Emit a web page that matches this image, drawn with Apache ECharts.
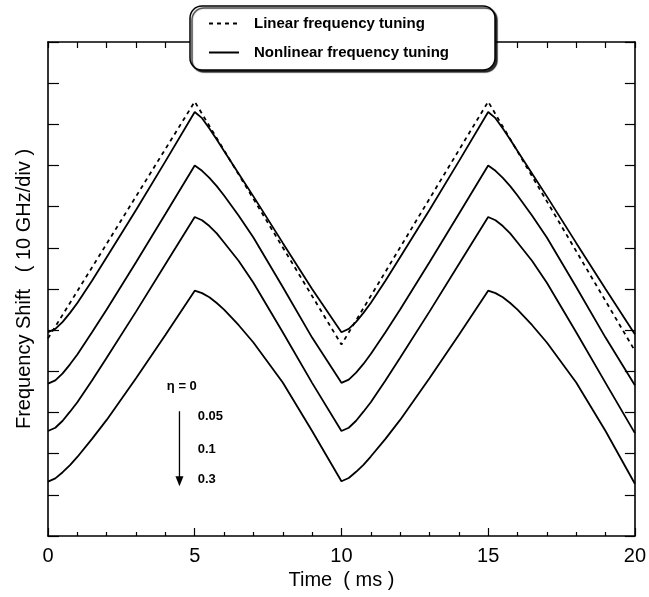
<!DOCTYPE html>
<html>
<head>
<meta charset="utf-8">
<script src="https://cdn.jsdelivr.net/npm/echarts@6/dist/echarts.min.js"></script>
<style>
  html, body { margin: 0; padding: 0; background: #fff; }
  #chart { width: 649px; height: 597px; }
</style>
</head>
<body>
<div id="chart"></div>
<script>
// time samples (ms), denser just after each turning point
const timeMs = [0, 0.25, 0.5, 0.75, 1, 1.5, 2, 3, 4, 5, 5.25, 5.5, 5.75, 6, 6.5, 7, 8, 9, 10,
  10.25, 10.5, 10.75, 11, 11.5, 12, 13, 14, 15, 15.25, 15.5, 15.75, 16, 16.5, 17, 18, 19, 20];

// nonlinear tuning curves (units = divisions)
const eta0 = [4.95, 5.03, 5.2, 5.42, 5.66, 6.2, 6.77, 7.92, 9.1, 10.3, 10.15, 9.9, 9.63, 9.35, 8.8, 8.25, 7.12, 6.0, 4.95,
  5.03, 5.2, 5.42, 5.66, 6.2, 6.77, 7.92, 9.1, 10.3, 10.15, 9.9, 9.63, 9.35, 8.8, 8.25, 7.12, 6.0, 4.9];
const eta005 = [3.7, 3.78, 3.95, 4.17, 4.41, 4.95, 5.5, 6.65, 7.82, 9.0, 8.87, 8.7, 8.5, 8.27, 7.78, 7.25, 6.05, 4.82, 3.72,
  3.8, 3.97, 4.18, 4.42, 4.95, 5.5, 6.65, 7.82, 9.0, 8.87, 8.7, 8.5, 8.27, 7.78, 7.25, 6.05, 4.82, 3.66];
const eta01 = [2.55, 2.63, 2.8, 3.02, 3.25, 3.78, 4.33, 5.45, 6.6, 7.75, 7.67, 7.53, 7.35, 7.13, 6.68, 6.15, 4.95, 3.72, 2.55,
  2.63, 2.8, 3.02, 3.25, 3.78, 4.33, 5.45, 6.6, 7.75, 7.67, 7.53, 7.35, 7.13, 6.68, 6.15, 4.95, 3.72, 2.5];
const eta03 = [1.32, 1.4, 1.55, 1.72, 1.92, 2.36, 2.82, 3.83, 4.88, 5.96, 5.9, 5.8, 5.66, 5.5, 5.12, 4.7, 3.73, 2.55, 1.33,
  1.41, 1.56, 1.73, 1.93, 2.36, 2.82, 3.83, 4.88, 5.96, 5.9, 5.8, 5.66, 5.5, 5.12, 4.7, 3.73, 2.55, 1.27];

// linear tuning (dashed)
const linearTime = [0, 5, 10, 15, 20];
const linearShift = [4.8, 10.55, 4.65, 10.55, 4.5];

// annotation (eta labels, data coords)
const etaLabels = ['η = 0', '0.05', '0.1', '0.3'];
const etaLabelPos = [[4.05, 3.64], [5.1, 2.91], [5.1, 2.11], [5.1, 1.38]];
const arrowFrom = [4.48, 3.03];
const arrowTo = [4.48, 1.21];

const FONT = 'Liberation Sans, Arial, sans-serif';
const NB = '\u00a0';

const chart = echarts.init(document.getElementById('chart'));

const pair = (xs, ys) => xs.map((x, i) => [x, ys[i]]);

const solid = (data) => ({
  name: 'Nonlinear frequency tuning',
  type: 'line',
  data: data,
  symbol: 'none',
  silent: true,
  itemStyle: { color: '#000' },
  lineStyle: { color: '#000', width: 1.8 },
  z: 3,
});

const frameAxis = {
  axisLine: { show: true, onZero: false, lineStyle: { color: '#000', width: 1.6 } },
  splitLine: { show: false },
};

const option = {
  animation: false,
  backgroundColor: '#fff',
  grid: { left: 48, right: 12, top: 42, bottom: 61 },
  legend: {
    orient: 'vertical',
    left: 190,
    top: 6,
    padding: [10, 46, 10, 18],
    itemGap: 14,
    itemWidth: 30,
    itemHeight: 14,
    backgroundColor: '#fff',
    borderColor: '#000',
    borderWidth: 1.5,
    borderRadius: 12,
    shadowColor: 'rgba(0,0,0,0.8)',
    shadowBlur: 1,
    shadowOffsetX: 2,
    shadowOffsetY: 2,
    selectedMode: false,
    z: 10,
    itemStyle: { color: 'rgba(0,0,0,0)', borderWidth: 0, opacity: 0 },
    data: ['Linear frequency tuning', 'Nonlinear frequency tuning'],
    textStyle: { fontFamily: FONT, fontSize: 15, fontWeight: 'bold', color: '#000', padding: [0, 0, 0, 10] },
  },
  xAxis: [
    {
      ...frameAxis,
      type: 'value',
      min: 0,
      max: 20,
      interval: 5,
      position: 'bottom',
      axisTick: { inside: true, length: 8, lineStyle: { color: '#000', width: 1.2 } },
      minorTick: { show: true, splitNumber: 5, length: 4, lineStyle: { color: '#000', width: 1.2 } },
      axisLabel: { fontFamily: FONT, fontSize: 20, color: '#000', margin: 10 },
      name: 'Time' + NB + NB + '(' + NB + 'ms' + NB + ')',
      nameLocation: 'middle',
      nameGap: 34,
      nameTextStyle: { fontFamily: FONT, fontSize: 20, color: '#000' },
    },
    {
      ...frameAxis,
      type: 'value',
      min: 0,
      max: 20,
      interval: 1,
      position: 'top',
      axisTick: { inside: true, length: 6, lineStyle: { color: '#000', width: 1.2 } },
      axisLabel: { show: false },
    },
  ],
  yAxis: [
    {
      ...frameAxis,
      type: 'value',
      min: 0,
      max: 12,
      interval: 1,
      position: 'left',
      axisTick: { inside: true, length: 11, lineStyle: { color: '#000', width: 1.2 } },
      axisLabel: { show: false },
      name: 'Frequency Shift' + NB + NB + NB + '(' + NB + '10 GHz/div' + NB + ')',
      nameLocation: 'middle',
      nameGap: 14,
      nameTextStyle: { fontFamily: FONT, fontSize: 20, color: '#000' },
    },
    {
      ...frameAxis,
      type: 'value',
      min: 0,
      max: 12,
      interval: 1,
      position: 'right',
      axisTick: { inside: true, length: 10, lineStyle: { color: '#000', width: 1.2 } },
      axisLabel: { show: false },
    },
  ],
  series: [
    {
      name: 'Linear frequency tuning',
      type: 'line',
      data: pair(linearTime, linearShift),
      symbol: 'none',
      silent: true,
      itemStyle: { color: '#000' },
      lineStyle: { color: '#000', width: 1.8, type: [4, 4] },
      z: 2,
    },
    solid(pair(timeMs, eta0)),
    solid(pair(timeMs, eta005)),
    solid(pair(timeMs, eta01)),
    solid(pair(timeMs, eta03)),
  ],
};

chart.setOption(option);

// eta annotation placed via the axes
const toPx = (p) => chart.convertToPixel({ xAxisIndex: 0, yAxisIndex: 0 }, p);
const a0 = toPx(arrowFrom);
const a1 = toPx(arrowTo);
const graphics = etaLabels.map((t, i) => {
  const p = toPx(etaLabelPos[i]);
  return {
    type: 'text',
    x: p[0],
    y: p[1],
    style: {
      text: t,
      fontFamily: FONT,
      fontSize: 13,
      fontWeight: 'bold',
      fill: '#000',
      verticalAlign: 'middle',
    },
  };
});
graphics.push({
  type: 'line',
  shape: { x1: a0[0], y1: a0[1], x2: a1[0], y2: a1[1] - 6 },
  style: { stroke: '#000', lineWidth: 1.3 },
});
graphics.push({
  type: 'polygon',
  shape: { points: [[a1[0] - 4, a1[1] - 10], [a1[0] + 4, a1[1] - 10], [a1[0], a1[1]]] },
  style: { fill: '#000' },
});
chart.setOption({ graphic: graphics });
</script>
</body>
</html>
